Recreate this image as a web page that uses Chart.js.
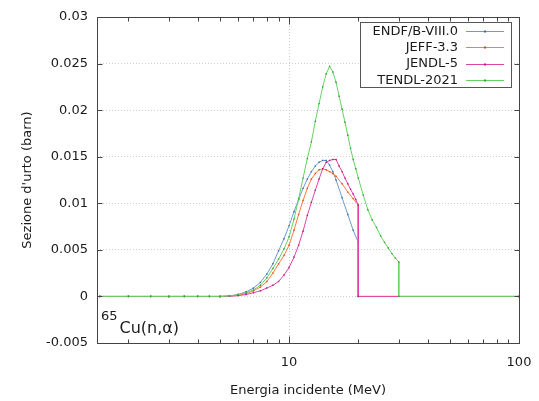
<!DOCTYPE html>
<html><head><meta charset="utf-8">
<script src="https://cdn.jsdelivr.net/npm/chart.js@4/dist/chart.umd.min.js"></script>
<style>html,body{margin:0;padding:0;background:#fff;overflow:hidden}</style>
</head><body>
<canvas id="c" width="539" height="401"></canvas>
<script>
// ---- data (energies in MeV, cross sections in barn) ----
const seriesLabels = ["ENDF/B-VIII.0", "JEFF-3.3", "JENDL-5", "TENDL-2021"];

const energyENDF = [1.5,2,2.5,3,3.5,4,4.5,5,5.5,6,6.5,7,7.5,8,8.5,9,9.5,10,10.5,11,11.5,12,12.5,13,13.5,14,14.5,15,15.5,16,17,18,19,20,20,100];
const xsENDF     = [0,0,0,0,0,0,0,0,0.00005,0.0002,0.0005,0.0009,0.0015,0.0024,0.0035,0.0049,0.0062,0.0076,0.0091,0.0104,0.0116,0.0126,0.0134,0.0140,0.0144,0.0146,0.0146,0.0141,0.0134,0.0125,0.0106,0.0088,0.0071,0.0058,0,0];

const energyJEFF = [1.5,2,2.5,3,3.5,4,4.5,5,5.5,6,6.5,7,7.5,8,8.5,9,9.5,10,10.5,11,11.5,12,12.5,13,13.5,14,14.5,15,15.5,16,17,18,19,20,20,100];
const xsJEFF     = [0,0,0,0,0,0,0,0,0.00003,0.0001,0.0003,0.0006,0.0010,0.0016,0.0025,0.0035,0.0044,0.0055,0.0071,0.0088,0.0103,0.0116,0.0126,0.0132,0.0136,0.0137,0.0136,0.0134,0.0132,0.0129,0.0121,0.0112,0.0105,0.0098,0,0];

const energyJENDL = [1.5,2,2.5,3,3.5,4,4.5,5,5.5,6,6.5,7,7.5,8,8.5,9,9.5,10,10.5,11,11.5,12,12.5,13,13.5,14,14.5,15,15.5,16,16.5,17,17.5,18,18.5,19,19.5,20,20,100];
const xsJENDL     = [0,0,0,0,0,0,0,0,0.00002,0.0001,0.0002,0.0004,0.0006,0.0009,0.0012,0.0016,0.0023,0.0031,0.0042,0.0055,0.0070,0.0087,0.0101,0.0114,0.0126,0.0137,0.0144,0.0146,0.0147,0.0147,0.0140,0.0134,0.0127,0.0121,0.0115,0.0110,0.0104,0.0098,0,0];

const energyTENDL = [1.5,2,2.5,3,3.5,4,4.5,5,5.5,6,6.5,7,7.5,8,8.5,9,9.5,10,10.5,11,11.5,12,12.5,13,13.5,14,14.5,15,15.5,16,16.5,17,17.5,18,18.5,19,19.5,20,21,22,23,24,25,26,27,28,29,30,30,100];
const xsTENDL     = [0,0,0,0,0,0,0,0,0.00005,0.0002,0.0004,0.0007,0.0012,0.0020,0.0030,0.0040,0.0051,0.0064,0.0083,0.0105,0.0127,0.0148,0.0166,0.0188,0.0207,0.0225,0.0239,0.0247,0.0241,0.0230,0.0215,0.0201,0.0187,0.0173,0.0159,0.0147,0.0137,0.0127,0.0109,0.0093,0.0082,0.0074,0.0065,0.0058,0.0052,0.0046,0.0041,0.0037,0,0];

const xTickLabels = [10, 100];
const xMinorTicks = [2,3,4,5,6,7,8,9,20,30,40,50,60,70,80,90];
const yTickLabels = [-0.005, 0, 0.005, 0.01, 0.015, 0.02, 0.025, 0.03];
const reactionLabel = { sup: "65", main: "Cu(n,\u03B1)" };

// ---- styles ----
const lineColors  = ["#6d9bd1", "#ff7a45", "#e043a8", "#66d266"];
const pointColors = ["#3a6fa8", "#e04a10", "#b0207a", "#2fa02f"];
const FONT = "'DejaVu Sans', Verdana, sans-serif";

const energies = [energyENDF, energyJEFF, energyJENDL, energyTENDL];
const values = [xsENDF, xsJEFF, xsJENDL, xsTENDL];

const datasets = seriesLabels.map((lab, k) => ({
  label: lab,
  data: energies[k].map((e, i) => ({ x: e, y: values[k][i] })),
  order: seriesLabels.length - 1 - k,   // later series drawn on top
  borderColor: lineColors[k],
  backgroundColor: pointColors[k],
  borderWidth: 1,
  pointRadius: 1,
  pointStyle: 'rect',
  pointBorderWidth: 0,
  pointBackgroundColor: pointColors[k],
  tension: 0,
  fill: false
}));

const framePlugin = {
  id: 'frame',
  afterDatasetsDraw(chart) {
    const { ctx, chartArea: a, scales } = chart;
    const xs = scales.x, ys = scales.y;
    ctx.save();
    ctx.strokeStyle = '#444';
    ctx.lineWidth = 1;
    const L = Math.round(a.left) + 0.5, R = Math.round(a.right) + 0.5;
    const T = Math.round(a.top) + 0.5, B = Math.round(a.bottom) + 0.5;
    ctx.strokeRect(L, T, R - L, B - T);
    ctx.beginPath();
    yTickLabels.forEach(v => {
      const py = Math.round(ys.getPixelForValue(v)) + 0.5;
      ctx.moveTo(L, py); ctx.lineTo(L + 5, py);
      ctx.moveTo(R, py); ctx.lineTo(R - 5, py);
    });
    xTickLabels.forEach(v => {
      const px = Math.round(xs.getPixelForValue(v)) + 0.5;
      ctx.moveTo(px, B); ctx.lineTo(px, B - 7);
      ctx.moveTo(px, T); ctx.lineTo(px, T + 7);
    });
    xMinorTicks.forEach(v => {
      const px = Math.round(xs.getPixelForValue(v)) + 0.5;
      ctx.moveTo(px, B); ctx.lineTo(px, B - 4);
      ctx.moveTo(px, T); ctx.lineTo(px, T + 4);
    });
    ctx.stroke();

    // legend (gnuplot style)
    const bx = 360.5, by = 22.5, bw = 151, bh = 65;
    ctx.fillStyle = '#fff';
    ctx.fillRect(bx, by, bw, bh);
    ctx.strokeStyle = '#555';
    ctx.strokeRect(bx, by, bw, bh);
    ctx.font = '13px ' + FONT;
    ctx.textAlign = 'right';
    ctx.textBaseline = 'middle';
    chart.data.datasets.forEach((ds, i) => {
      const ry = 31 + i * 16.3;
      ctx.fillStyle = '#1a1a1a';
      ctx.fillText(ds.label, 458, ry + 0.5);
      ctx.strokeStyle = ds.borderColor;
      ctx.beginPath();
      ctx.moveTo(466, Math.round(ry) + 0.5);
      ctx.lineTo(504, Math.round(ry) + 0.5);
      ctx.stroke();
      ctx.fillStyle = ds.pointBackgroundColor;
      ctx.fillRect(484, Math.round(ry) - 0.5, 2, 2);
    });

    // reaction label
    ctx.textAlign = 'left';
    ctx.textBaseline = 'alphabetic';
    ctx.fillStyle = '#1a1a1a';
    ctx.font = '13px ' + FONT;
    ctx.fillText(reactionLabel.sup, 101, 320);
    const w = ctx.measureText(reactionLabel.sup).width;
    ctx.font = '16px ' + FONT;
    ctx.fillText(reactionLabel.main, 101 + w + 2, 333);
    ctx.restore();
  }
};

new Chart(document.getElementById('c'), {
  type: 'line',
  data: { datasets },
  options: {
    responsive: false,
    devicePixelRatio: 1,
    animation: false,
    layout: { padding: { top: 17, right: 20, left: 0, bottom: 0 } },
    plugins: { legend: { display: false }, tooltip: { enabled: false } },
    scales: {
      x: {
        type: 'logarithmic',
        min: 1.46,
        max: 100,
        afterBuildTicks: s => { s.ticks = xTickLabels.map(v => ({ value: v })); },
        afterFit: s => { s.height = 58; s.paddingRight = 0; s.paddingLeft = 0; },
        ticks: {
          autoSkip: false, maxRotation: 0, padding: 12,
          color: '#1a1a1a', font: { family: FONT, size: 13 },
          callback: v => String(v)
        },
        grid: { color: '#cfcfcf', lineWidth: 1, drawTicks: false },
        border: { display: false, dash: [1, 2] },
        title: {
          display: true, text: 'Energia incidente (MeV)',
          color: '#1a1a1a', font: { family: FONT, size: 13 },
          padding: { top: 0, bottom: 2.5 }
        }
      },
      y: {
        type: 'linear',
        min: -0.005,
        max: 0.03,
        afterBuildTicks: s => { s.ticks = yTickLabels.map(v => ({ value: v })); },
        afterFit: s => { s.width = 97; s.paddingTop = 0; s.paddingBottom = 0; },
        ticks: {
          padding: 9, color: '#1a1a1a', font: { family: FONT, size: 13 },
          callback: v => String(Math.round(v * 1000) / 1000)
        },
        grid: { color: '#cfcfcf', lineWidth: 1, drawTicks: false },
        border: { display: false, dash: [1, 2] },
        title: {
          display: true, text: "Sezione d'urto (barn)",
          color: '#1a1a1a', font: { family: FONT, size: 13 },
          padding: { top: 20, bottom: 0 }
        }
      }
    }
  },
  plugins: [framePlugin]
});
</script>
</body></html>
